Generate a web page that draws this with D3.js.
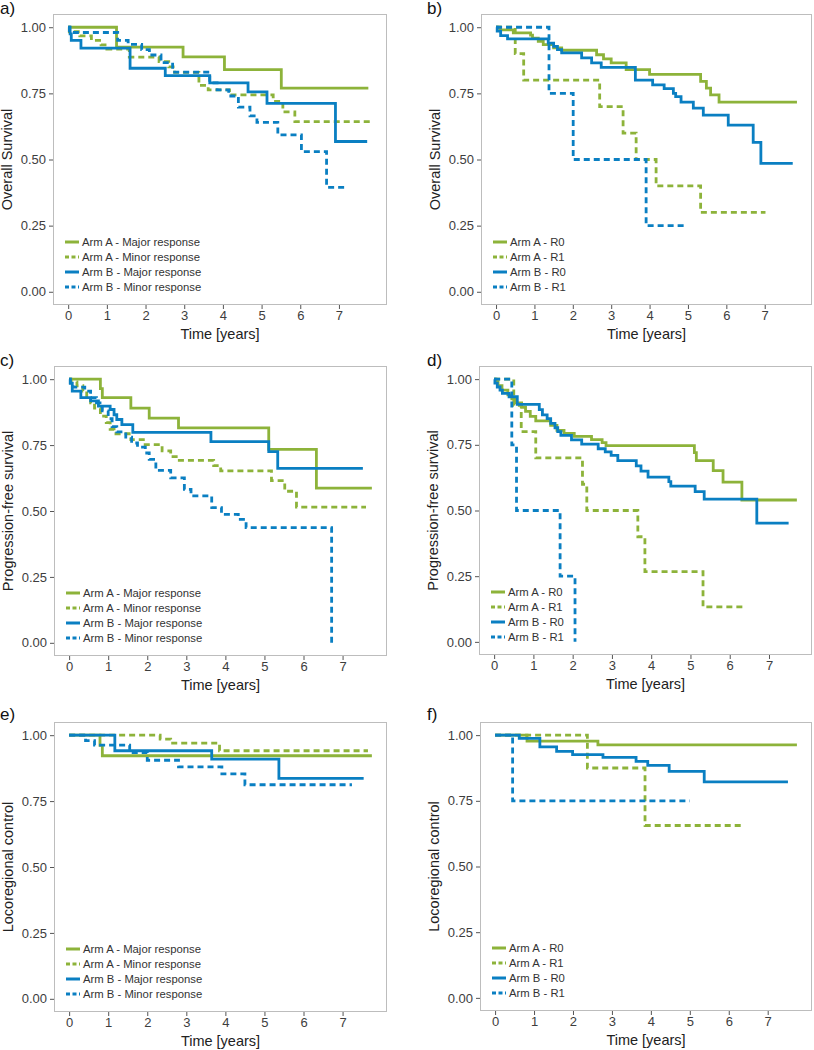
<!DOCTYPE html>
<html lang="en">
<head>
<meta charset="utf-8">
<title>Survival curves by arm</title>
<script src="https://cdn.jsdelivr.net/npm/d3@7"></script>
<style>
  body { margin: 0; background: #fff; }
  text { font-family: "Liberation Sans", Arial, sans-serif; }
</style>
</head>
<body>
<script>
// ---- data: [time in years, survival] step points, last point = end of follow-up ----

// a) overall survival by response
var osA_major = [[0,1],[1.25,0.925],[2.97,0.888],[4.04,0.84],[5.51,0.77],[7.76,0.77]];
var osA_minor = [[0,1],[0.03,0.983],[0.3,0.967],[0.6,0.95],[0.85,0.933],[1.0,0.917],[1.58,0.887],[2.35,0.87],[2.6,0.85],[2.75,0.829],[3.38,0.78],[3.62,0.763],[4.17,0.744],[5.3,0.72],[5.55,0.68],[5.86,0.643],[7.85,0.643]];
var osB_major = [[0,1],[0.05,0.975],[0.08,0.95],[0.33,0.921],[1.6,0.845],[2.51,0.817],[3.66,0.79],[4.65,0.756],[5.14,0.712],[6.91,0.568],[7.73,0.568]];
var osB_minor = [[0,1],[0.03,0.98],[1.28,0.95],[1.55,0.935],[1.9,0.915],[2.1,0.895],[2.4,0.866],[2.7,0.83],[3.66,0.79],[3.85,0.763],[4.15,0.74],[4.4,0.698],[4.7,0.665],[4.88,0.64],[5.42,0.593],[6.03,0.53],[6.68,0.395],[7.2,0.395]];

// b) overall survival by resection status
var osR_A0 = [[0,1],[0.1,0.99],[0.45,0.979],[0.9,0.97],[0.95,0.959],[1.1,0.947],[1.23,0.934],[1.5,0.922],[1.71,0.913],[2.62,0.896],[2.8,0.88],[3.0,0.865],[3.39,0.84],[4.0,0.822],[5.33,0.795],[5.48,0.77],[5.59,0.744],[5.81,0.717],[7.84,0.717]];
var osR_A1 = [[0,1],[0.5,0.9],[0.72,0.8],[2.7,0.7],[3.31,0.6],[3.65,0.5],[4.17,0.4],[5.33,0.3],[7.02,0.3]];
var osR_B0 = [[0,1],[0.03,0.985],[0.12,0.968],[0.3,0.956],[1.36,0.94],[1.5,0.928],[1.6,0.915],[1.71,0.903],[2.23,0.884],[2.49,0.865],[2.74,0.848],[3.63,0.8],[4.08,0.782],[4.38,0.768],[4.62,0.75],[4.68,0.738],[4.82,0.717],[5.14,0.694],[5.4,0.668],[6.05,0.63],[6.7,0.565],[6.9,0.485],[7.73,0.485]];
var osR_B1 = [[0,1],[1.38,0.75],[2.01,0.5],[3.91,0.25],[4.99,0.25]];

// c) progression-free survival by response
var pfsA_major = [[0,1],[0.8,0.964],[0.85,0.93],[1.58,0.89],[2.05,0.852],[2.8,0.815],[5.11,0.734],[6.33,0.587],[7.75,0.587]];
var pfsA_minor = [[0,1],[0.05,0.99],[0.2,0.975],[0.35,0.955],[0.45,0.935],[0.55,0.91],[0.65,0.89],[0.8,0.86],[0.95,0.835],[1.05,0.81],[1.15,0.793],[1.58,0.771],[1.9,0.752],[2.38,0.728],[2.6,0.706],[2.82,0.692],[3.7,0.672],[3.88,0.652],[5.18,0.615],[5.52,0.575],[5.82,0.515],[7.6,0.515]];
var pfsB_major = [[0,1],[0.03,0.985],[0.08,0.955],[0.3,0.93],[0.55,0.918],[0.75,0.898],[1.05,0.885],[1.15,0.865],[1.22,0.847],[1.35,0.828],[1.63,0.798],[3.63,0.763],[5.11,0.725],[5.34,0.662],[7.52,0.662]];
var pfsB_minor = [[0,1],[0.03,0.985],[0.1,0.97],[0.4,0.955],[0.55,0.93],[0.7,0.91],[0.85,0.88],[1.0,0.85],[1.1,0.82],[1.22,0.8],[1.45,0.78],[1.6,0.758],[1.75,0.742],[1.95,0.72],[2.05,0.696],[2.22,0.654],[2.6,0.626],[2.95,0.582],[3.12,0.557],[3.65,0.513],[3.9,0.487],[4.33,0.468],[4.53,0.437],[6.72,0]];

// d) progression-free survival by resection status
var pfsR_A0 = [[0,1],[0.05,0.99],[0.1,0.975],[0.2,0.958],[0.35,0.94],[0.45,0.925],[0.55,0.91],[0.7,0.893],[0.8,0.877],[0.92,0.858],[1.06,0.841],[1.44,0.824],[1.6,0.805],[1.78,0.793],[2.04,0.782],[2.48,0.77],[2.75,0.758],[2.85,0.747],[5.1,0.72],[5.15,0.69],[5.58,0.652],[5.83,0.608],[6.31,0.54],[7.71,0.54]];
var pfsR_A1 = [[0,1],[0.5,0.9],[0.69,0.8],[1.06,0.7],[2.25,0.6],[2.36,0.5],[3.66,0.4],[3.84,0.267],[5.32,0.133],[6.34,0.133]];
var pfsR_B0 = [[0,1],[0.02,0.985],[0.08,0.97],[0.15,0.958],[0.21,0.946],[0.38,0.933],[0.59,0.904],[1.15,0.884],[1.23,0.864],[1.35,0.85],[1.44,0.832],[1.55,0.815],[1.62,0.8],[1.7,0.786],[1.97,0.769],[2.23,0.753],[2.65,0.735],[2.83,0.723],[2.98,0.71],[3.15,0.69],[3.62,0.67],[3.74,0.65],[3.92,0.627],[4.45,0.61],[4.5,0.593],[5.12,0.572],[5.35,0.543],[6.69,0.452],[7.5,0.452]];
var pfsR_B1 = [[0,1],[0.45,0.75],[0.57,0.5],[1.68,0.25],[2.06,0]];

// e) locoregional control by response
var lrcA_major = [[0,1],[0.79,0.961],[0.85,0.922],[7.75,0.922]];
var lrcA_minor = [[0,1],[2.33,0.985],[2.6,0.97],[3.85,0.941],[7.65,0.941]];
var lrcB_major = [[0,1],[1.17,0.941],[3.65,0.909],[5.37,0.836],[7.54,0.836]];
var lrcB_minor = [[0,1],[0.42,0.979],[0.65,0.962],[1.55,0.934],[2.0,0.905],[2.8,0.88],[3.91,0.853],[4.5,0.812],[7.24,0.812]];

// f) locoregional control by resection status
var lrcR_A0 = [[0,1],[0.82,0.977],[2.64,0.963],[7.75,0.963]];
var lrcR_A1 = [[0,1],[2.37,0.875],[3.85,0.656],[6.35,0.656]];
var lrcR_B0 = [[0,1],[0.62,0.988],[1.15,0.955],[1.58,0.938],[1.99,0.926],[2.77,0.915],[3.62,0.9],[3.92,0.885],[4.47,0.862],[5.37,0.822],[7.52,0.822]];
var lrcR_B1 = [[0,1],[0.45,0.75],[5.0,0.75]];

var respLabels = ["Arm A - Major response", "Arm A - Minor response", "Arm B - Major response", "Arm B - Minor response"];
var resLabels = ["Arm A - R0", "Arm A - R1", "Arm B - R0", "Arm B - R1"];
var yTicks = [0, 0.25, 0.5, 0.75, 1];
var xTicks = [0, 1, 2, 3, 4, 5, 6, 7];

// ---- styles and layout ----
var green = "#8db33a", blue = "#0a7fc2";
var seriesStyle = [
  {color: green, dash: null},
  {color: green, dash: "6,4"},
  {color: blue, dash: null},
  {color: blue, dash: "6,4"}
];

var panels = [
  {tag: "a)", ylab: "Overall Survival", labels: respLabels, series: [osA_major, osA_minor, osB_major, osB_minor],
   box: {l: 53, t: 14, r: 387, b: 305}, tagAt: [0, 14]},
  {tag: "b)", ylab: "Overall Survival", labels: resLabels, series: [osR_A0, osR_A1, osR_B0, osR_B1],
   box: {l: 481, t: 14, r: 812, b: 305}, tagAt: [427, 14]},
  {tag: "c)", ylab: "Progression-free survival", labels: respLabels, series: [pfsA_major, pfsA_minor, pfsB_major, pfsB_minor],
   box: {l: 54, t: 366, r: 387, b: 656}, tagAt: [0, 366]},
  {tag: "d)", ylab: "Progression-free survival", labels: resLabels, series: [pfsR_A0, pfsR_A1, pfsR_B0, pfsR_B1],
   box: {l: 479, t: 366, r: 812, b: 655}, tagAt: [427, 366]},
  {tag: "e)", ylab: "Locoregional control", labels: respLabels, series: [lrcA_major, lrcA_minor, lrcB_major, lrcB_minor],
   box: {l: 54, t: 722, r: 387, b: 1012}, tagAt: [0, 720]},
  {tag: "f)", ylab: "Locoregional control", labels: resLabels, series: [lrcR_A0, lrcR_A1, lrcR_B0, lrcR_B1],
   box: {l: 480, t: 722, r: 812, b: 1011}, tagAt: [427, 720]}
];

var svg = d3.select("body").append("svg")
  .attr("width", 814)
  .attr("height", 1050);

panels.forEach(function(p) {
  var box = p.box;
  var g = svg.append("g");

  // ggplot-like 5% expansion on both axes
  var tmax = d3.max(p.series, function(s) { return d3.max(s, function(d) { return d[0]; }); });
  var x = d3.scaleLinear().domain([-0.05 * tmax, 1.05 * tmax]).range([box.l, box.r]);
  var y = d3.scaleLinear().domain([-0.05, 1.05]).range([box.b, box.t]);

  // panel border
  g.append("rect")
    .attr("x", box.l + 0.5).attr("y", box.t + 0.5)
    .attr("width", box.r - box.l - 1).attr("height", box.b - box.t - 1)
    .attr("fill", "none").attr("stroke", "#bdbdbd").attr("stroke-width", 1);

  // Y axis
  var yAxis = g.append("g")
    .attr("transform", "translate(" + box.l + ",0)")
    .call(d3.axisLeft(y).tickValues(yTicks).tickFormat(d3.format(".2f")).tickSize(4).tickPadding(3));
  // X axis
  var xAxis = g.append("g")
    .attr("transform", "translate(0," + box.b + ")")
    .call(d3.axisBottom(x).tickValues(xTicks).tickFormat(d3.format("d")).tickSize(4).tickPadding(2));

  [yAxis, xAxis].forEach(function(ax) {
    ax.select(".domain").remove();
    ax.selectAll(".tick line").attr("stroke", "#555");
    ax.selectAll(".tick text")
      .attr("fill", "#3d3d3d")
      .style("font-size", "13px")
      .style("font-family", "'Liberation Sans', Arial, sans-serif");
  });

  // survival curves
  var line = d3.line()
    .x(function(d) { return x(d[0]); })
    .y(function(d) { return y(d[1]); })
    .curve(d3.curveStepAfter);

  p.series.forEach(function(s, i) {
    g.append("path")
      .datum(s)
      .attr("d", line)
      .attr("fill", "none")
      .attr("stroke", seriesStyle[i].color)
      .attr("stroke-width", 2.8)
      .attr("stroke-dasharray", seriesStyle[i].dash);
  });

  // legend (bottom left inside panel)
  var lg = g.append("g");
  p.labels.forEach(function(lab, i) {
    var ly = box.b - 63 + i * 15;
    lg.append("line")
      .attr("x1", box.l + 12).attr("x2", box.l + 26)
      .attr("y1", ly).attr("y2", ly)
      .attr("stroke", seriesStyle[i].color)
      .attr("stroke-width", 3)
      .attr("stroke-dasharray", seriesStyle[i].dash ? "4,2.5" : null);
    lg.append("text")
      .attr("x", box.l + 29).attr("y", ly)
      .attr("dy", "0.35em")
      .attr("fill", "#333")
      .style("font-size", "11.3px")
      .text(lab);
  });

  // axis titles
  g.append("text")
    .attr("x", (box.l + box.r) / 2)
    .attr("y", box.b + 34)
    .attr("text-anchor", "middle")
    .attr("fill", "#222")
    .style("font-size", "14.5px")
    .text("Time [years]");

  g.append("text")
    .attr("transform", "translate(" + (box.l - 46) + "," + ((box.t + box.b) / 2) + ") rotate(-90)")
    .attr("text-anchor", "middle")
    .attr("dy", "0.35em")
    .attr("fill", "#222")
    .style("font-size", "14.5px")
    .text(p.ylab);

  // panel tag
  g.append("text")
    .attr("x", p.tagAt[0]).attr("y", p.tagAt[1])
    .attr("fill", "#111")
    .style("font-size", "17px")
    .text(p.tag);
});
</script>
</body>
</html>
